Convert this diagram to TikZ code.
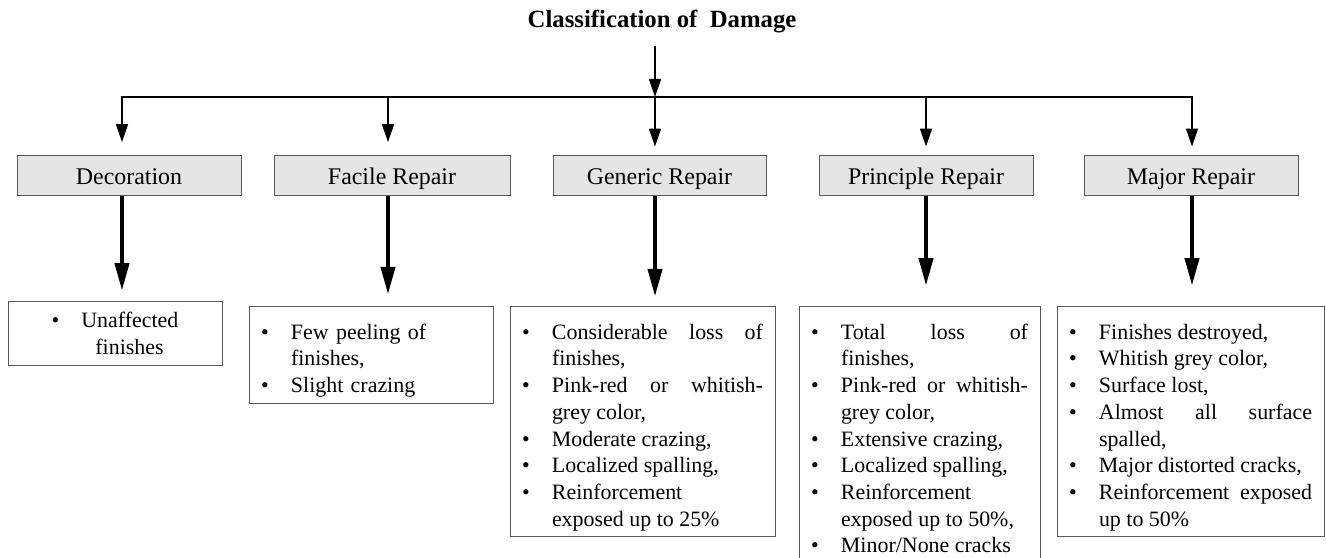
\documentclass[tikz,border=0pt]{standalone}
\usepackage{fontspec}
\setmainfont{Liberation Serif}
\usepackage{tikz}
\usepackage{xcolor}
\usetikzlibrary{arrows.meta}

\newcommand{\listfont}{\fontsize{15.6pt}{19pt}\selectfont}
\newcommand{\boxfont}{\fontsize{17pt}{20pt}\selectfont}
\newlength{\itemind}
\setlength{\itemind}{0.75cm}
\newcommand{\bitem}[1]{\par\noindent\hangindent=\itemind\hangafter=1%
  \makebox[\itemind][l]{\textbullet}#1}

\begin{document}
\begin{tikzpicture}[x=1cm,y=1cm,every node/.style={font=\listfont},
  titletext/.style={font=\fontsize{17.6pt}{20pt}\selectfont\bfseries,inner sep=0pt,anchor=base},
  classbox/.style={draw=black!65,fill=gray!20,line width=0.7pt,minimum height=0.99cm,
    text height=0.5cm,text depth=0.06cm,font=\boxfont},
  listbox/.style={draw=black!65,line width=0.7pt,anchor=north,inner xsep=0.3cm,
    inner ysep=0.15cm,align=justify},
  thinarrow/.style={line width=1.1pt,-{Triangle[length=0.45cm,width=0.3cm]}},
  thickarrow/.style={line width=2.2pt,-{Triangle[length=0.68cm,width=0.36cm]},shorten >=0.27cm}]
\useasboundingbox (0,0) rectangle (33.15,-13.95);

\node[titletext] (title) at (16.55,-0.7) {Classification of\ \ Damage};

\coordinate (decx) at (3.05,-2.425);
\coordinate (facx) at (9.7,-2.425);
\coordinate (hub) at (16.375,-2.425);
\coordinate (prix) at (23.15,-2.425);
\coordinate (majx) at (29.8,-2.425);

\node[classbox,minimum width=5.6cm] (dec) at (3.225,-4.39) {Decoration};
\node[classbox,minimum width=5.9cm] (fac) at (9.8,-4.39) {Facile Repair};
\node[classbox,minimum width=5.325cm] (gen) at (16.4875,-4.39) {Generic Repair};
\node[classbox,minimum width=5.35cm] (pri) at (23.15,-4.39) {Principle Repair};
\node[classbox,minimum width=5.35cm] (maj) at (29.775,-4.39) {Major Repair};

\node[listbox,align=center,inner ysep=0.275cm,text width=4.75cm] (decL) at (2.875,-7.525)
  {\textbullet\hspace{0.55cm}Unaffected\\\hspace*{0.725cm}finishes};
\node[listbox,align=left,text width=5.5cm] (facL) at (9.275,-7.65)
  {\bitem{Few peeling of\linebreak finishes,}\bitem{Slight crazing}\par};
\node[listbox,text width=6.025cm] (genL) at (16.0625,-7.65)
  {\bitem{Considerable loss of\linebreak finishes,}\bitem{Pink-red or whitish-\linebreak grey color,}%
   \bitem{Moderate crazing,}\bitem{Localized spalling,}\bitem{Reinforcement\linebreak exposed up to 25\%}\par};
\node[listbox,text width=5.425cm] (priL) at (22.9875,-7.65)
  {\bitem{Total loss of\linebreak finishes,}\bitem{Pink-red or whitish-\linebreak grey color,}%
   \bitem{Extensive crazing,}\bitem{Localized spalling,}\bitem{Reinforcement\linebreak exposed up to 50\%,}%
   \bitem{Minor/None cracks}\par};
\node[listbox,text width=6.075cm] (majL) at (29.7625,-7.65)
  {\bitem{Finishes destroyed,}\bitem{Whitish grey color,}\bitem{Surface lost,}%
   \bitem{Almost all surface\linebreak spalled,}\bitem{Major distorted cracks,}%
   \bitem{Reinforcement exposed\linebreak up to 50\%}\par};

\draw[thinarrow,shorten <=0.3cm] (hub |- title.south) -- (hub);
\draw[line width=1.1pt,{Triangle[length=0.45cm,width=0.3cm]}-{Triangle[length=0.45cm,width=0.3cm]},
  shorten <=0.33cm,shorten >=0.22cm] (decx |- dec.north) -- (decx) -- (majx) -- (majx |- maj.north);
\draw[thinarrow,shorten >=0.33cm] (facx) -- (facx |- fac.north);
\draw[thinarrow,shorten >=0.22cm] (hub) -- (hub |- gen.north);
\draw[thinarrow,shorten >=0.22cm] (prix) -- (prix |- pri.north);

\draw[thickarrow] (decx |- dec.south) -- (decx |- decL.north);
\draw[thickarrow,shorten >=0.3cm] (facx |- fac.south) -- (facx |- facL.north);
\draw[thickarrow,shorten >=0.25cm] (hub |- gen.south) -- (hub |- genL.north);
\draw[thickarrow,shorten >=0.52cm] (prix |- pri.south) -- (prix |- priL.north);
\draw[thickarrow,shorten >=0.52cm] (majx |- maj.south) -- (majx |- majL.north);
\end{tikzpicture}
\end{document}
